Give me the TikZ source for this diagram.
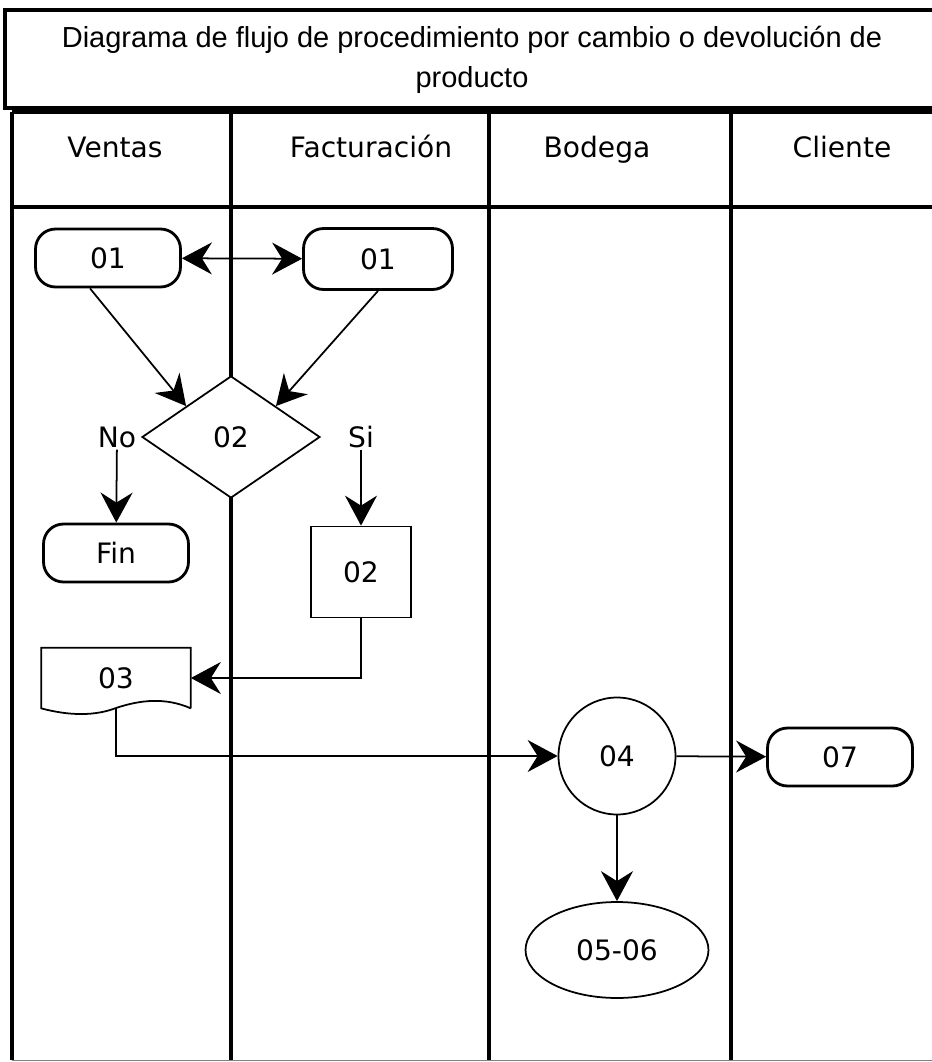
\documentclass[tikz,border=0pt]{standalone}
\usepackage{fontspec}
\setmainfont{DejaVu Sans}
\newfontfamily\titlefont{Liberation Sans}
\usepackage{tikz}
\usetikzlibrary{arrows.meta}
\usetikzlibrary{shapes.geometric}

\begin{document}
\begin{tikzpicture}[x=0.02cm,y=-0.02cm,font=\fontsize{16}{19}\selectfont,
  terminal/.style={draw,line width=1.6pt,rounded corners=0.4cm,minimum width=2.9cm,minimum height=1.16cm,fill=white},
  proceso/.style={draw,line width=1pt,minimum width=2cm,minimum height=1.82cm,fill=white},
  punta/.tip={Stealth[length=0.6cm,width=0.64cm,inset=0.2cm]},
  flecha/.style={-punta,line width=1pt},
  carril/.style={line width=2.4pt},
  encabezado/.style={anchor=base}]
\useasboundingbox (0,0) rectangle (932,1062);

% marco y carriles
\draw[line width=1.8pt] (5,10) rectangle (945,108);
\draw[carril] (12,112) -- (945,112);
\draw[carril] (12,207) -- (945,207);
\draw[carril] (12,112) -- (12,1060);
\draw[carril] (231,112) -- (231,1060);
\draw[carril] (489,112) -- (489,1060);
\draw[carril] (731,112) -- (731,1060);
\draw[gray,thin] (12,1060) -- (945,1060);

\node[align=center,font=\titlefont\fontsize{16.5}{23}\selectfont] (titulo) at (472,60) {Diagrama de flujo de procedimiento por cambio o devoluci\'on de\\producto};
\node[encabezado] (ventas) at (115,157) {Ventas};
\node[encabezado] (factura) at (371,157) {Facturaci\'on};
\node[encabezado] (bodega) at (597,157) {Bodega};
\node[encabezado] (cliente) at (842,157) {Cliente};

\node[terminal] (v01) at (108,258) {01};
\node[terminal,minimum width=2.98cm,minimum height=1.22cm] (f01) at (378,259) {01};
\node[draw,diamond,fill=white,line width=1pt,minimum width=3.56cm,minimum height=2.44cm,inner sep=0pt] (d02) at (231,437) {02};
\node[inner sep=1pt] (no) at (117,437) {No};
\node[inner sep=1pt] (si) at (361,437) {Si};
\node[terminal] (fin) at (116,553) {Fin};
\node[proceso] (p02) at (361,572) {02};
\node[minimum width=2.98cm,minimum height=1.2cm] (doc03) at (116,678) {03};
\draw[line width=1pt] (doc03.south east) -- (doc03.north east) -- (doc03.north west) -- (doc03.south west)
  .. controls (70,716) and (95,716) .. (116,708) .. controls (140,700) and (165,697) .. (doc03.south east);
\node[draw,circle,line width=1pt,minimum size=2.34cm,fill=white] (c04) at (617,756) {04};
\node[terminal] (t07) at (840,757) {07};
\node[draw,ellipse,line width=1pt,minimum width=3.66cm,minimum height=1.92cm,inner sep=0pt] (e0506) at (617,950) {05-06};

\draw[flecha,punta-punta] (v01) -- (f01);
\draw[flecha] ([xshift=-0.36cm]v01.south) -- (d02.north west);
\draw[flecha] (f01.south) -- (d02.north east);
\draw[flecha] (no) -- (fin);
\draw[flecha] (si) -- (p02);
\draw[flecha] (p02.south) |- (doc03.east);
\draw[flecha] (doc03.south) |- (c04.west);
\draw[flecha] (c04) -- (t07);
\draw[flecha] (c04) -- (e0506);

\end{tikzpicture}
\end{document}
